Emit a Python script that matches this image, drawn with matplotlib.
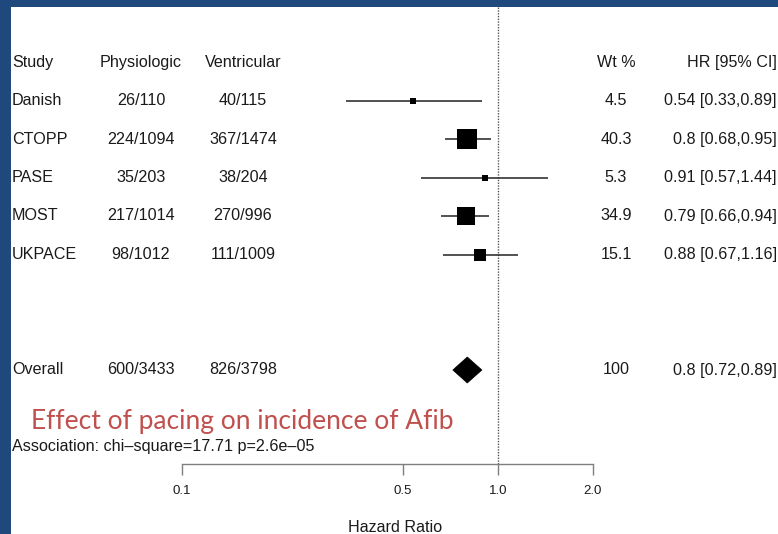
import matplotlib
matplotlib.use("Agg")
import matplotlib.pyplot as plt
import matplotlib.transforms as mtransforms
from matplotlib.patches import Polygon, Rectangle
import numpy as np

# ---- data ----
studies = ["Danish", "CTOPP", "PASE", "MOST", "UKPACE"]
physiologic = ["26/110", "224/1094", "35/203", "217/1014", "98/1012"]
ventricular = ["40/115", "367/1474", "38/204", "270/996", "111/1009"]
hr = [0.54, 0.80, 0.91, 0.79, 0.88]
lower = [0.33, 0.68, 0.57, 0.66, 0.67]
upper = [0.89, 0.95, 1.44, 0.94, 1.16]
weights = [4.5, 40.3, 5.3, 34.9, 15.1]
hr_labels = ["0.54 [0.33,0.89]", "0.8 [0.68,0.95]", "0.91 [0.57,1.44]",
             "0.79 [0.66,0.94]", "0.88 [0.67,1.16]"]

overall_label = "Overall"
overall_phys = "600/3433"
overall_vent = "826/3798"
overall_hr, overall_lo, overall_hi = 0.80, 0.72, 0.89
overall_wt = "100"
overall_hr_label = "0.8 [0.72,0.89]"

headers = ["Study", "Physiologic", "Ventricular", "Wt %", "HR [95% CI]"]
xticks = [0.1, 0.5, 1.0, 2.0]
xtick_labels = ["0.1", "0.5", "1.0", "2.0"]
title = "Effect of pacing on incidence of Afib"
assoc = "Association: chi\u2013square=17.71 p=2.6e\u201305"
xlabel = "Hazard Ratio"

# ---- figure ----
W, H = 778, 534
fig = plt.figure(figsize=(W / 100, H / 100), dpi=100)
fig.patch.set_facecolor("white")

border = "#1F497D"
fig.add_artist(Rectangle((0, 0), 11 / W, 1, transform=fig.transFigure,
                         facecolor=border, edgecolor="none", zorder=10))
fig.add_artist(Rectangle((0, 1 - 7 / H), 1, 7 / H, transform=fig.transFigure,
                         facecolor=border, edgecolor="none", zorder=10))

font = ["Liberation Sans", "DejaVu Sans"]
fs = 11.6
txt_color = "#1a1a1a"

# axes: x from 0.1 (px 182) to 2.0 (px 593); y rows: px = 62 + 38.5*row
ax_left, ax_right = 182 / W, 593 / W
ax_top_px, ax_bot_px = 7, 464
ax = fig.add_axes([ax_left, 1 - ax_bot_px / H, ax_right - ax_left,
                   (ax_bot_px - ax_top_px) / H])
ax.set_xscale("log")
ax.set_xlim(0.1, 2.0)
row0_px, row_step = 62, 38.5
ax.set_ylim((ax_bot_px - row0_px) / row_step, (ax_top_px - row0_px) / row_step)
ax.patch.set_alpha(0)
for s in ["top", "right", "left"]:
    ax.spines[s].set_visible(False)
ax.spines["bottom"].set_color("#7f7f7f")
ax.spines["bottom"].set_linewidth(1.0)
ax.set_yticks([])
ax.set_xticks(xticks)
ax.set_xticklabels(xtick_labels, fontfamily=font, fontsize=9.5, color=txt_color)
ax.xaxis.set_minor_locator(matplotlib.ticker.NullLocator())
ax.tick_params(axis="x", direction="out", length=8, width=1.0,
               color="#7f7f7f", pad=7)

# reference line
ax.axvline(1.0, color="#555555", linestyle=(0, (1, 1)), linewidth=1.0, zorder=1)

# study rows
rows = np.arange(1, len(studies) + 1)
for r, est, lo, hi, w in zip(rows, hr, lower, upper, weights):
    ax.plot([lo, hi], [r, r], color="#333333", linewidth=1.2, zorder=2,
            solid_capstyle="butt")
    side_px = 3.0 * np.sqrt(w)
    ax.plot([est], [r], marker="s", markersize=side_px * 0.72,
            color="black", markeredgewidth=0, zorder=3)

# overall diamond
orow = 8
half_h = 13 / row_step
ax.add_patch(Polygon([(overall_lo, orow), (overall_hr, orow - half_h),
                      (overall_hi, orow), (overall_hr, orow + half_h)],
                     closed=True, facecolor="black", edgecolor="black",
                     linewidth=0.5, zorder=3))

# text columns
trans = mtransforms.blended_transform_factory(fig.transFigure, ax.transData)
col_x = {"study": 12, "phys": 141, "vent": 243, "wt": 616, "hr": 777}

def put(x_px, row, s, ha):
    fig.text(x_px / W, row, s, transform=trans, ha=ha, va="center",
             fontsize=fs, family=font, color=txt_color)

put(col_x["study"], 0, headers[0], "left")
put(col_x["phys"], 0, headers[1], "center")
put(col_x["vent"], 0, headers[2], "center")
put(col_x["wt"], 0, headers[3], "center")
put(col_x["hr"], 0, headers[4], "right")

for r, st, p, v, w, lab in zip(rows, studies, physiologic, ventricular,
                               weights, hr_labels):
    put(col_x["study"], r, st, "left")
    put(col_x["phys"], r, p, "center")
    put(col_x["vent"], r, v, "center")
    put(col_x["wt"], r, f"{w:.1f}", "center")
    put(col_x["hr"], r, lab, "right")

put(col_x["study"], orow, overall_label, "left")
put(col_x["phys"], orow, overall_phys, "center")
put(col_x["vent"], orow, overall_vent, "center")
put(col_x["wt"], orow, overall_wt, "center")
put(col_x["hr"], orow, overall_hr_label, "right")

# title and association
fig.text(31 / W, 1 - 421 / H, title, ha="left", va="center",
         fontsize=19, family=["Lato", "DejaVu Sans"], color="#C0504D")
fig.text(12 / W, 1 - 446 / H, assoc, ha="left", va="center",
         fontsize=11.6, family=font, color=txt_color)
fig.text(395 / W, 1 - 528 / H, xlabel, ha="center", va="center",
         fontsize=fs, family=font, color=txt_color)

fig.savefig("out.png", dpi=100)
